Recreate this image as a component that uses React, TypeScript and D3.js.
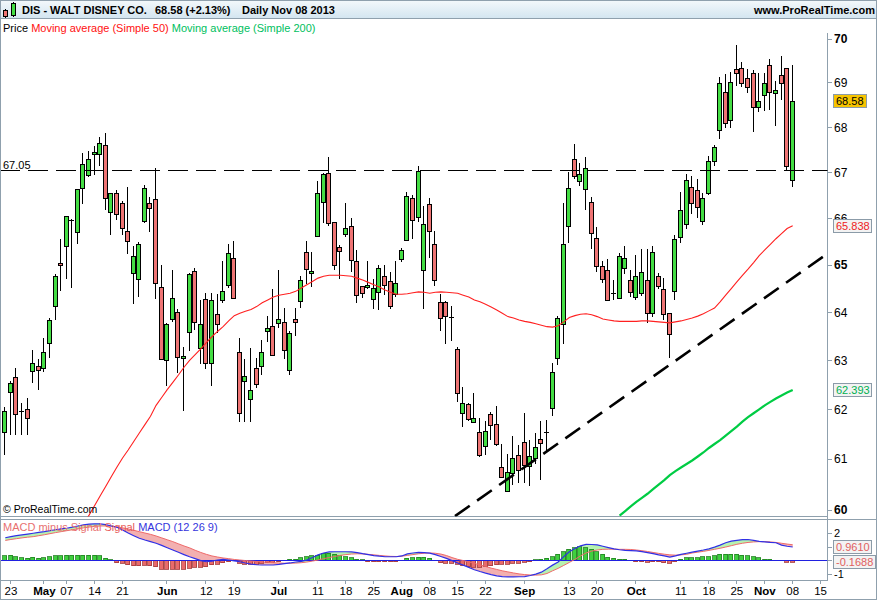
import React from "react";
import * as d3 from "d3";

// ---------- categories ----------
const holidays = ["2013-05-27", "2013-07-04", "2013-09-02"];
const firstDay = "2013-04-22";
const lastAxisDay = "2013-11-15";

// ---------- price series (daily OHLC, DIS) ----------
const opens = [
  61.54, 62.35, 62.65, 61.95, 62.01, 62.77, 62.89, 62.84, 63.36, 64.13,
  65.05, 65.4, 65.97, 65.7, 66.65, 66.93, 67.4, 67.4, 67.6, 66.13,
  66.54, 66.33, 65.73, 64.82, 64.71, 65.94, 66.33, 66.41, 64.53, 63.01,
  63.87, 64.0, 63.04, 63.59, 64.87, 63.26, 64.28, 62.94, 63.96, 64.24,
  64.56, 65.14, 63.17, 62.57, 62.2, 62.84, 62.89, 63.6, 63.71, 63.78,
  63.79, 62.8, 63.86, 64.22, 65.27, 64.82, 65.6, 66.34, 66.98, 65.91,
  65.38, 65.65, 65.84, 65.09, 64.56, 64.52, 64.27, 64.43, 64.77, 64.65,
  64.38, 65.12, 65.52, 66.45, 66.03, 64.89, 66.31, 65.44, 64.21, 64.22,
  63.91, 63.23, 61.92, 62.1, 61.74, 61.55, 61.26, 61.9, 61.7, 60.84,
  60.38, 60.72, 61.08, 61.35, 60.86, 61.01, 61.41, 61.53, 62.04, 63.06,
  63.74, 65.82, 67.29, 66.81, 66.63, 66.35, 65.57, 64.98, 64.9, 64.39,
  64.32, 64.93, 64.69, 64.32, 64.4, 64.67, 63.98, 64.77, 64.49, 63.98,
  64.45, 65.6, 65.87, 66.69, 66.61, 65.95, 66.56, 67.25, 67.92, 68.79,
  68.16, 69.31, 69.33, 69.1, 69.21, 68.45, 68.7, 69.4, 68.76, 69.16,
  69.33, 66.82,
];
const highs = [
  62.05, 62.58, 62.84, 62.13, 62.23, 63.22, 63.02, 63.46, 63.89, 64.81,
  65.56, 66.04, 65.99, 66.63, 67.42, 67.48, 67.57, 67.77, 67.86, 66.54,
  66.61, 66.38, 66.69, 65.41, 65.5, 66.72, 66.46, 67.09, 65.0, 63.77,
  64.89, 64.06, 63.27, 64.82, 64.93, 64.26, 64.4, 64.4, 64.39, 65.09,
  65.45, 65.51, 63.46, 63.03, 63.25, 63.06, 63.42, 63.92, 64.48, 64.89,
  64.08, 63.62, 64.08, 64.76, 65.51, 65.27, 66.8, 66.99, 67.33, 65.93,
  65.43, 66.34, 66.0, 65.31, 64.56, 65.08, 64.7, 65.0, 65.0, 64.84,
  65.08, 65.36, 66.58, 66.51, 67.14, 66.27, 66.45, 65.72, 64.39, 64.23,
  64.13, 63.28, 62.46, 62.13, 62.33, 61.82, 61.77, 61.95, 62.07, 61.3,
  61.1, 61.46, 61.28, 61.93, 61.38, 61.53, 61.77, 61.78, 62.94, 63.92,
  66.34, 67.01, 67.63, 67.2, 67.34, 66.47, 65.81, 65.09, 65.12, 64.69,
  65.25, 65.41, 64.9, 65.21, 65.33, 65.33, 65.41, 64.83, 64.72, 63.99,
  65.64, 66.58, 66.96, 66.93, 66.85, 66.55, 67.37, 67.6, 69.13, 69.19,
  69.24, 69.85, 69.46, 69.31, 69.29, 69.21, 69.21, 69.53, 69.04, 69.61,
  69.33, 69.4,
];
const lows = [
  61.08, 61.48, 61.48, 61.48, 61.48, 62.53, 62.39, 62.76, 63.06, 63.83,
  64.45, 64.71, 64.51, 65.45, 66.3, 66.89, 66.94, 67.15, 66.17, 65.63,
  65.96, 65.64, 65.23, 64.18, 64.33, 65.89, 65.7, 64.27, 63.02, 62.48,
  63.8, 62.75, 61.97, 63.2, 63.63, 62.92, 62.82, 62.48, 63.57, 64.19,
  64.52, 64.29, 61.75, 61.75, 61.75, 62.44, 62.69, 63.39, 63.11, 63.68,
  63.02, 62.7, 63.5, 64.1, 64.6, 64.53, 65.6, 65.89, 65.84, 64.89,
  64.71, 65.6, 64.85, 64.2, 64.3, 64.49, 64.06, 64.05, 64.37, 64.06,
  64.33, 65.07, 65.52, 65.55, 65.93, 64.06, 65.15, 64.55, 63.61, 63.34,
  63.41, 62.15, 61.65, 61.77, 61.72, 61.03, 61.08, 61.38, 61.26, 60.63,
  60.35, 60.48, 60.52, 60.52, 60.46, 60.91, 60.59, 61.15, 61.87, 62.9,
  63.34, 65.46, 66.85, 66.7, 66.18, 65.35, 64.86, 64.62, 64.24, 64.26,
  64.32, 64.81, 64.33, 64.26, 64.35, 63.78, 63.91, 64.49, 63.84, 63.04,
  64.26, 65.46, 65.76, 66.1, 66.0, 65.85, 66.5, 67.13, 67.73, 67.99,
  67.99, 68.92, 68.89, 68.77, 67.9, 68.34, 68.36, 68.38, 68.03, 68.6,
  67.05, 66.69,
];
const closes = [
  61.97, 62.53, 61.89, 61.96, 61.82, 62.94, 62.8, 63.17, 63.84, 64.77,
  65.01, 66.04, 65.97, 66.63, 67.18, 67.29, 67.45, 67.64, 66.43, 66.54,
  66.09, 65.79, 65.52, 65.19, 65.45, 66.65, 66.22, 64.61, 63.03, 63.75,
  64.3, 63.06, 63.09, 64.8, 63.79, 63.75, 62.94, 64.26, 63.75, 64.44,
  65.25, 64.29, 61.92, 62.68, 62.39, 62.51, 63.17, 63.67, 63.11, 63.87,
  63.21, 63.56, 63.8, 64.67, 64.91, 64.87, 66.54, 66.96, 65.89, 64.98,
  65.3, 65.78, 65.12, 64.37, 64.41, 64.57, 64.51, 64.93, 64.58, 64.13,
  64.61, 65.32, 66.48, 65.98, 67.03, 65.88, 65.72, 64.67, 63.88, 63.93,
  63.9, 62.33, 62.12, 61.79, 61.82, 61.08, 61.57, 61.68, 61.3, 60.64,
  60.75, 61.01, 60.78, 60.88, 61.06, 61.23, 61.33, 61.54, 62.77, 63.89,
  65.44, 66.65, 66.92, 66.96, 67.09, 65.68, 64.98, 64.71, 64.27, 64.4,
  65.2, 65.14, 64.43, 64.77, 64.84, 63.98, 65.27, 64.55, 63.96, 63.55,
  65.56, 66.18, 66.83, 66.35, 66.25, 66.45, 67.25, 67.56, 68.98, 68.09,
  69.02, 69.23, 68.98, 68.89, 68.45, 68.59, 68.98, 68.79, 68.83, 68.98,
  67.15, 68.58,
];

// ---------- moving averages ----------
const ma50Start = 14;
const ma50 = [
  59.72, 59.89, 60.08, 60.27, 60.46, 60.65, 60.84, 61.02, 61.18, 61.35,
  61.52, 61.69, 61.86, 62.08, 62.24, 62.4, 62.55, 62.7, 62.86, 63.0,
  63.12, 63.24, 63.37, 63.49, 63.6, 63.7, 63.82, 63.93, 63.98, 64.02,
  64.06, 64.12, 64.2, 64.26, 64.32, 64.36, 64.38, 64.4, 64.44, 64.51,
  64.58, 64.65, 64.72, 64.76, 64.78, 64.78, 64.78, 64.77, 64.76, 64.72,
  64.68, 64.63, 64.58, 64.53, 64.47, 64.42, 64.38, 64.38, 64.39, 64.41,
  64.43, 64.42, 64.4, 64.42, 64.43, 64.42, 64.41, 64.4, 64.36, 64.32,
  64.26, 64.22, 64.17, 64.11, 64.05, 63.98, 63.91, 63.88, 63.84, 63.81,
  63.79, 63.76, 63.73, 63.7, 63.69, 63.72, 63.8, 63.89, 63.93, 63.96,
  63.97, 63.95, 63.91, 63.86, 63.84, 63.82, 63.81, 63.81, 63.81, 63.81,
  63.82, 63.82, 63.81, 63.8, 63.79, 63.78, 63.8, 63.82, 63.85, 63.88,
  63.92, 63.97, 64.03, 64.09, 64.22, 64.36, 64.5, 64.64, 64.78, 64.91,
  65.05, 65.2, 65.32, 65.44, 65.56, 65.67, 65.78, 65.838,
];
const ma200Start = 110;
const ma200 = [
  59.88, 59.97, 60.06, 60.15, 60.23, 60.31, 60.4, 60.49, 60.58, 60.68,
  60.76, 60.83, 60.9, 60.97, 61.05, 61.13, 61.22, 61.3, 61.38, 61.47,
  61.56, 61.65, 61.75, 61.84, 61.92, 62.0, 62.08, 62.15, 62.22, 62.28,
  62.34, 62.393,
];

// ---------- MACD (12 26 9) ----------
const macd = [
  1.65, 1.73, 1.8, 1.86, 1.92, 1.98, 2.04, 2.1, 2.17, 2.24,
  2.3, 2.35, 2.43, 2.52, 2.6, 2.66, 2.68, 2.68, 2.62, 2.52,
  2.42, 2.22, 2.0, 1.8, 1.61, 1.48, 1.36, 1.24, 1.08, 0.91,
  0.74, 0.57, 0.4, 0.24, 0.1, -0.05, -0.13, -0.08, 0.0, 0.05,
  0.0, -0.07, -0.13, -0.22, -0.3, -0.35, -0.37, -0.37, -0.37, -0.33,
  -0.27, -0.22, -0.15, -0.1, 0.0, 0.18, 0.38, 0.52, 0.6, 0.61,
  0.61, 0.61, 0.6, 0.55, 0.47, 0.4, 0.33, 0.28, 0.24, 0.24,
  0.24, 0.3, 0.45, 0.52, 0.57, 0.55, 0.51, 0.4, 0.26, 0.12,
  -0.05, -0.22, -0.38, -0.55, -0.72, -0.85, -0.97, -1.08, -1.17, -1.23,
  -1.25, -1.25, -1.24, -1.23, -1.15, -1.05, -0.9, -0.65, -0.38, -0.15,
  0.25, 0.61, 0.85, 1.05, 1.16, 1.15, 1.12, 1.02, 0.92, 0.82,
  0.76, 0.72, 0.7, 0.68, 0.62, 0.55, 0.47, 0.38, 0.3, 0.22,
  0.3, 0.42, 0.5, 0.58, 0.66, 0.74, 0.83, 0.95, 1.1, 1.28,
  1.4, 1.46, 1.51, 1.52, 1.45, 1.38, 1.34, 1.3, 1.28, 1.1,
  1.02, 0.961,
];
const signal = [
  1.45, 1.52, 1.58, 1.64, 1.69, 1.73, 1.8, 1.87, 1.95, 2.03,
  2.1, 2.17, 2.24, 2.31, 2.38, 2.44, 2.49, 2.52, 2.52, 2.5,
  2.46, 2.38, 2.3, 2.2, 2.1, 2.0, 1.9, 1.78, 1.64, 1.5,
  1.36, 1.2, 1.04, 0.9, 0.72, 0.56, 0.42, 0.3, 0.22, 0.15,
  0.1, 0.04, 0.0, -0.04, -0.08, -0.11, -0.14, -0.17, -0.2, -0.22,
  -0.24, -0.24, -0.23, -0.2, -0.15, -0.08, 0.0, 0.1, 0.18, 0.26,
  0.34, 0.4, 0.44, 0.46, 0.45, 0.42, 0.38, 0.34, 0.3, 0.27,
  0.26, 0.28, 0.34, 0.4, 0.46, 0.5, 0.52, 0.5, 0.44, 0.33,
  0.18, 0.05, -0.04, -0.14, -0.25, -0.36, -0.48, -0.6, -0.7, -0.8,
  -0.88, -0.96, -1.03, -1.08, -1.11, -1.12, -1.1, -1.0, -0.8, -0.62,
  -0.4, -0.18, 0.05, 0.3, 0.52, 0.66, 0.74, 0.79, 0.8, 0.8,
  0.79, 0.79, 0.78, 0.74, 0.69, 0.63, 0.56, 0.49, 0.43, 0.38,
  0.36, 0.38, 0.42, 0.52, 0.58, 0.64, 0.71, 0.79, 0.87, 0.96,
  1.06, 1.16, 1.24, 1.3, 1.34, 1.36, 1.36, 1.34, 1.3, 1.24,
  1.18, 1.13,
];
const hist = [
  0.3, 0.35, 0.25, 0.17, 0.12, 0.2, 0.12, 0.17, 0.25, 0.3,
  0.32, 0.37, 0.37, 0.37, 0.37, 0.37, 0.35, 0.32, 0.12, 0.02,
  -0.2, -0.25, -0.37, -0.42, -0.44, -0.4, -0.44, -0.49, -0.69, -0.69,
  -0.69, -0.69, -0.69, -0.62, -0.54, -0.54, -0.49, -0.37, -0.3, -0.2,
  -0.12, -0.05, -0.25, -0.3, -0.32, -0.32, -0.25, -0.2, -0.17, -0.12,
  -0.03, 0.05, 0.07, 0.17, 0.25, 0.3, 0.37, 0.49, 0.49, 0.42,
  0.32, 0.25, 0.17, 0.07, 0.02, -0.12, -0.12, -0.12, -0.12, -0.12,
  -0.12, -0.03, 0.12, 0.17, 0.2, 0.2, 0.12, -0.02, -0.2, -0.25,
  -0.25, -0.32, -0.42, -0.49, -0.54, -0.54, -0.49, -0.44, -0.37, -0.32,
  -0.3, -0.25, -0.25, -0.17, -0.12, 0.02, 0.07, 0.12, 0.25, 0.42,
  0.62, 0.79, 0.91, 0.99, 0.91, 0.79, 0.62, 0.42, 0.2, 0.12,
  0.07, 0.07, -0.02, -0.12, -0.12, -0.17, -0.12, -0.12, -0.2, -0.25,
  -0.12, 0.07, 0.17, 0.17, 0.17, 0.25, 0.25, 0.3, 0.42, 0.42,
  0.44, 0.42, 0.37, 0.3, 0.25, 0.17, 0.07, 0.07, 0.0, 0.0,
  -0.1688, -0.1688,
];

// ---------- axes ----------
const tickDates = [
  "2013-04-23", "2013-05-01", "2013-05-07", "2013-05-14", "2013-05-21", "2013-06-03",
  "2013-06-12", "2013-06-19", "2013-07-01", "2013-07-11", "2013-07-18", "2013-07-25",
  "2013-08-01", "2013-08-08", "2013-08-15", "2013-08-22", "2013-09-03", "2013-09-13",
  "2013-09-20", "2013-10-01", "2013-10-11", "2013-10-18", "2013-10-25", "2013-11-01",
  "2013-11-08", "2013-11-15",
];
const tickLabels = [
  "23", "May", "07", "14", "21", "Jun", "12", "19", "Jul", "11", "18", "25",
  "Aug", "08", "15", "22", "Sep", "13", "20", "Oct", "11", "18", "25", "Nov", "08", "15",
];
const priceTicks = [60, 61, 62, 63, 64, 65, 66, 67, 68, 69, 70];
const boldPriceTicks = [60, 65, 70];
const macdTicks = [2, 1, 0, -1];
const macdTickLabels = [2, -1];
const levelLine = 67.05;
const trendIdx = [80.53, 147.33];
const trendPrice = [59.87, 65.25];

const FONT = "'Liberation Sans', Arial, Helvetica, sans-serif";
const GREEN = "#44dd44";
const RED = "#ee7474";
const BORDER = "#8fa0ad";

function tradingDays(): string[] {
  const parse = d3.timeParse("%Y-%m-%d");
  const fmt = d3.timeFormat("%Y-%m-%d");
  const s = parse(firstDay)!;
  const e = d3.timeDay.offset(parse(lastAxisDay)!, 1);
  return d3.timeDay
    .range(s, e)
    .filter((d) => d.getDay() !== 0 && d.getDay() !== 6 && !holidays.includes(fmt(d)))
    .map((d) => fmt(d));
}

export default function App() {
  const days = tradingDays();
  const n = closes.length;
  const x = d3.scaleLinear().domain([0, n - 1]).range([5.3, 792.7]);
  const y = d3.scaleLog().domain([60, 70]).range([509.5, 38.5]);
  const ym = d3.scaleLinear().domain([-1, 2]).range([573.5, 533]);

  const PL = 1, PR = 827.5, PT = 19.5, PB = 516.5;
  const MT = 519.5, MB = 580.5;

  const ma50Path = d3.line<number>().x((_, i) => x(i + ma50Start)).y((v) => y(v))(ma50) || "";
  const ma200Path = d3.line<number>().x((_, i) => x(i + ma200Start)).y((v) => y(v))(ma200) || "";
  const macdPath = d3.line<number>().x((_, i) => x(i)).y((v) => ym(v))(macd) || "";
  const sigPath = d3.line<number>().x((_, i) => x(i)).y((v) => ym(v))(signal) || "";
  const idx = d3.range(n);
  const greenArea = d3.area<number>().x((i) => x(i)).y0((i) => ym(signal[i])).y1((i) => ym(Math.max(macd[i], signal[i])))(idx) || "";
  const pinkArea = d3.area<number>().x((i) => x(i)).y0((i) => ym(signal[i])).y1((i) => ym(Math.min(macd[i], signal[i])))(idx) || "";

  const candles = idx.map((i) => {
    const c = Math.round(x(i));
    const o = opens[i], cl = closes[i];
    const doji = Math.abs(o - cl) < 0.02;
    const top = y(Math.max(o, cl)), bot = y(Math.min(o, cl));
    return (
      <g key={i}>
        <line x1={c - 0.5} x2={c - 0.5} y1={y(highs[i])} y2={y(lows[i])} stroke="#000" strokeWidth={1} />
        {doji ? (
          <line x1={c - 3} x2={c + 2} y1={Math.round(top) + 0.5} y2={Math.round(top) + 0.5} stroke="#000" strokeWidth={1.2} />
        ) : (
          <rect x={c - 2.5} y={Math.round(top) + 0.5} width={4} height={Math.max(1, Math.round(bot - top))}
            fill={cl > o ? GREEN : RED} stroke="#000" strokeWidth={1} />
        )}
      </g>
    );
  });

  const bars = idx.map((i) => {
    const v = hist[i];
    if (Math.abs(v) < 0.015) return null;
    const c = Math.round(x(i));
    const y0 = ym(0), y1 = ym(v);
    return (
      <rect key={i} x={c - 2.5} y={Math.min(y0, y1)} width={4} height={Math.abs(y1 - y0)}
        fill={v > 0 ? "#3fcf3f" : "#e86a6a"} stroke={v > 0 ? "#1f7f1f" : "#a23a3a"} strokeWidth={0.8} />
    );
  });

  const valueBox = (val: number, text: string, fill: string, color: string, w: number, scale: (v: number) => number) => (
    <g>
      <rect x={833.5} y={Math.round(scale(val)) - 6.5} width={w} height={13} fill={fill} stroke="#8b9ba8" strokeWidth={1} />
      <text x={836} y={scale(val) + 4} fontSize={11} fill={color} fontFamily={FONT}>{text}</text>
    </g>
  );

  return (
    <svg width={880} height={600} style={{ position: "absolute", left: 0, top: 0, background: "#fff" }}
      xmlns="http://www.w3.org/2000/svg">
      <defs>
        <linearGradient id="hdr" x1="0" x2="0" y1="0" y2="1">
          <stop offset="0" stopColor="#f3f8fb" />
          <stop offset="1" stopColor="#d3e5f0" />
        </linearGradient>
        <clipPath id="mainClip"><rect x={PL} y={PT} width={PR - PL} height={PB - PT} /></clipPath>
        <clipPath id="macdClip"><rect x={PL} y={MT} width={PR - PL} height={MB - MT} /></clipPath>
      </defs>
      <rect x={0} y={0} width={880} height={600} fill="#fff" />

      {/* header */}
      <rect x={0.5} y={0.5} width={876} height={18} fill="url(#hdr)" stroke={BORDER} />
      <g shapeRendering="crispEdges">
        <line x1={5.5} x2={5.5} y1={9} y2={18} stroke="#000" />
        <rect x={3.5} y={10.5} width={4} height={6} fill={RED} stroke="#000" />
        <line x1={13.5} x2={13.5} y1={2} y2={17} stroke="#000" />
        <rect x={11.5} y={3.5} width={4} height={12} fill={GREEN} stroke="#000" />
      </g>
      <text x={22} y={14} fontSize={11} fontWeight="bold" fontFamily={FONT} fill="#000">DIS - WALT DISNEY CO.</text>
      <text x={155} y={14} fontSize={11} fontWeight="bold" fontFamily={FONT} fill="#000">68.58 (+2.13%)</text>
      <text x={242} y={14} fontSize={11} fontWeight="bold" fontFamily={FONT} fill="#000">Daily  Nov 08 2013</text>
      <text x={875} y={14} fontSize={11} fontWeight="bold" fontFamily={FONT} fill="#000" textAnchor="end">www.ProRealTime.com</text>

      {/* legend */}
      <text x={3} y={32} fontSize={11} fontFamily={FONT}>
        <tspan fill="#000">Price </tspan>
        <tspan fill="#ff1010">Moving average (Simple 50) </tspan>
        <tspan fill="#00c060">Moving average (Simple 200)</tspan>
      </text>

      {/* frames */}
      <g shapeRendering="crispEdges" fill="none" stroke={BORDER}>
        <line x1={0.5} x2={0.5} y1={19} y2={600} />
        <line x1={876.5} x2={876.5} y1={19} y2={600} />
        <line x1={PR} x2={PR} y1={33} y2={MB} />
        <line x1={0} x2={PR} y1={PB} y2={PB} />
        <line x1={0} x2={877} y1={MT} y2={MT} />
        <line x1={0} x2={PR} y1={MB} y2={MB} />
        <line x1={0} x2={877} y1={599.5} y2={599.5} />
      </g>

      {/* main panel */}
      <g clipPath="url(#mainClip)">
        <g shapeRendering="crispEdges">{candles}</g>
        <line x1={0} x2={PR} y1={Math.round(y(levelLine)) + 0.5} y2={Math.round(y(levelLine)) + 0.5}
          stroke="#000" strokeWidth={1} strokeDasharray="20 8" shapeRendering="crispEdges" />
        <path d={ma50Path} fill="none" stroke="#ff2020" strokeWidth={1.1} />
        <path d={ma200Path} fill="none" stroke="#00cc44" strokeWidth={2.2} />
        <line x1={x(trendIdx[0])} y1={y(trendPrice[0])} x2={x(trendIdx[1])} y2={y(trendPrice[1])}
          stroke="#000" strokeWidth={2.6} strokeDasharray="18 9" />
      </g>
      <text x={3} y={169} fontSize={11} fontFamily={FONT} fill="#000">{levelLine.toFixed(2)}</text>
      <text x={3} y={513} fontSize={10.5} fontFamily={FONT} fill="#000">© ProRealTime.com</text>

      {/* price axis */}
      <g fontFamily={FONT} fontSize={12}>
        {priceTicks.map((p) => (
          <g key={p}>
            <line x1={PR} x2={PR + 4} y1={Math.round(y(p)) + 0.5} y2={Math.round(y(p)) + 0.5} stroke={BORDER} shapeRendering="crispEdges" />
            <text x={834} y={y(p) + 4.5} fontWeight={boldPriceTicks.includes(p) ? "bold" : "normal"} fill="#000">{p}</text>
          </g>
        ))}
      </g>
      {valueBox(closes[n - 1], closes[n - 1].toFixed(2), "#f7c400", "#000", 33, y)}
      {valueBox(ma50[ma50.length - 1], ma50[ma50.length - 1].toFixed(3), "#f3f3f3", "#ee1c1c", 38, y)}
      {valueBox(ma200[ma200.length - 1], ma200[ma200.length - 1].toFixed(3), "#f3f3f3", "#00b050", 38, y)}

      {/* MACD panel */}
      <g clipPath="url(#macdClip)">
        <path d={greenArea} fill="#b6f2b0" stroke="none" />
        <path d={pinkArea} fill="#f3b0b0" stroke="none" />
        <g shapeRendering="crispEdges">{bars}</g>
        <line x1={0} x2={PR} y1={Math.round(ym(0)) + 0.5} y2={Math.round(ym(0)) + 0.5} stroke="#2020e0" strokeWidth={1.2} />
        <path d={sigPath} fill="none" stroke="#ee6a6a" strokeWidth={1} />
        <path d={macdPath} fill="none" stroke="#3030e6" strokeWidth={1.2} />
      </g>
      <text x={3} y={531} fontSize={11} fontFamily={FONT}>
        <tspan fill="#e87070">MACD minus Signal </tspan>
        <tspan fill="#e85a5a">Signal </tspan>
        <tspan fill="#3535dd">MACD (12 26 9)</tspan>
      </text>
      <g fontFamily={FONT} fontSize={11}>
        {macdTicks.map((t) => (
          <line key={t} x1={PR} x2={PR + 4} y1={Math.round(ym(t)) + 0.5} y2={Math.round(ym(t)) + 0.5} stroke={BORDER} shapeRendering="crispEdges" />
        ))}
        {macdTickLabels.map((t) => (
          <text key={t} x={834} y={ym(t) + 4} fill="#000">{t}</text>
        ))}
      </g>
      {valueBox(macd[n - 1], macd[n - 1].toFixed(4), "#f3f3f3", "#e06060", 38, ym)}
      {valueBox(hist[n - 1], hist[n - 1].toFixed(4), "#f3f3f3", "#e06060", 42, ym)}

      {/* date axis */}
      <g fontFamily={FONT} fontSize={11.5}>
        {tickDates.map((d, j) => {
          const i = days.indexOf(d);
          const px = x(i);
          const bold = /[A-Za-z]/.test(tickLabels[j]);
          return (
            <g key={d}>
              <line x1={Math.round(px) - 0.5} x2={Math.round(px) - 0.5} y1={MB} y2={MB + 3} stroke={BORDER} shapeRendering="crispEdges" />
              <text x={px} y={595} textAnchor="middle" fontWeight={bold ? "bold" : "normal"} fill="#000">{tickLabels[j]}</text>
            </g>
          );
        })}
      </g>
    </svg>
  );
}
